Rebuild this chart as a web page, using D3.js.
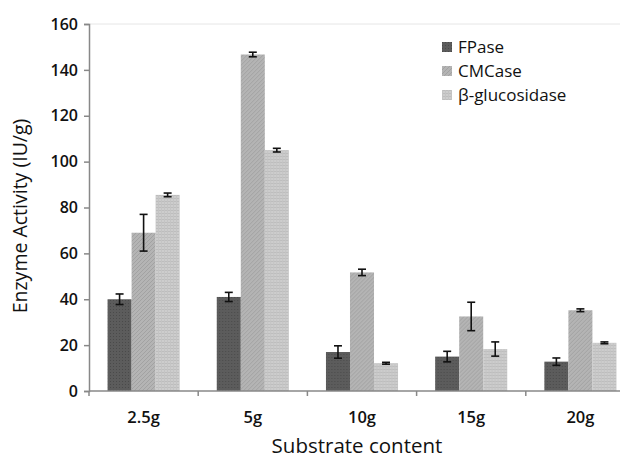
<!DOCTYPE html>
<html>
<head>
<meta charset="utf-8">
<script src="https://cdn.jsdelivr.net/npm/d3@7"></script>
<style>
  body { margin: 0; background: #fff; }
  text { font-family: "Open Sans", sans-serif; fill: #111; }
</style>
</head>
<body>
<div id="chart"></div>
<script>
const categories = ["2.5g", "5g", "10g", "15g", "20g"];
const seriesNames = ["FPase", "CMCase", "β-glucosidase"];
const fpase = [40, 41, 17, 15, 12.8];
const cmcase = [69, 146.7, 51.7, 32.5, 35.2];
const bglu = [85.5, 105, 12.1, 18.3, 21];
const fpaseErr = [2.3, 2, 2.7, 2.3, 1.6];
const cmcaseErr = [8, 1, 1.4, 6.2, 0.6];
const bgluErr = [0.8, 0.8, 0.4, 3.1, 0.4];
const yTicks = [0, 20, 40, 60, 80, 100, 120, 140, 160];

const width = 620, height = 459;
const margin = {top: 24, right: -15, bottom: 68, left: 89};

const svg = d3.select("#chart").append("svg")
    .attr("width", width)
    .attr("height", height);

// fill patterns for each series
const defs = svg.append("defs");
const p1 = defs.append("pattern").attr("id", "pat0")
    .attr("width", 3).attr("height", 3).attr("patternUnits", "userSpaceOnUse");
p1.append("rect").attr("width", 3).attr("height", 3).attr("fill", "#5c5c5c");
p1.append("rect").attr("width", 1).attr("height", 1).attr("fill", "#4a4a4a");
const p2 = defs.append("pattern").attr("id", "pat1")
    .attr("width", 4).attr("height", 4).attr("patternUnits", "userSpaceOnUse");
p2.append("rect").attr("width", 4).attr("height", 4).attr("fill", "#b4b4b4");
p2.append("path").attr("d", "M-1,5 L5,-1").attr("stroke", "#a2a2a2").attr("stroke-width", 1);
const p3 = defs.append("pattern").attr("id", "pat2")
    .attr("width", 3).attr("height", 3).attr("patternUnits", "userSpaceOnUse");
p3.append("rect").attr("width", 3).attr("height", 3).attr("fill", "#cdcdcd");
p3.append("rect").attr("width", 3).attr("height", 1).attr("fill", "#bdbdbd");
p3.append("rect").attr("width", 1).attr("height", 3).attr("fill", "#c4c4c4");

const x = d3.scaleBand()
    .domain(categories)
    .range([margin.left, width - margin.right])
    .paddingInner(0).paddingOuter(0);

const x1 = d3.scaleBand()
    .domain(seriesNames)
    .range([x.bandwidth() * 0.17, x.bandwidth() * 0.83]);

const y = d3.scaleLinear()
    .domain([0, 160])
    .range([height - margin.bottom, margin.top]);

// top gridline
svg.append("line")
    .attr("x1", margin.left).attr("x2", width)
    .attr("y1", y(160)).attr("y2", y(160))
    .attr("stroke", "#e6e6e6");

const yAxis = svg.append("g")
    .attr("transform", "translate(" + margin.left + ",0)")
    .call(d3.axisLeft(y).tickValues(yTicks).tickSize(5).tickPadding(6));
yAxis.select(".domain").attr("stroke", "#888").attr("stroke-width", 1.5);
yAxis.selectAll(".tick line").attr("stroke", "#888").attr("stroke-width", 1.5);
yAxis.selectAll("text").attr("font-size", 16).attr("font-weight", 600).style("fill", "#111");

const series = [fpase, cmcase, bglu];
const errs = [fpaseErr, cmcaseErr, bgluErr];

const groups = svg.append("g").selectAll("g")
    .data(categories)
    .join("g")
    .attr("transform", d => "translate(" + x(d) + ",0)");

groups.selectAll("rect")
    .data((d, i) => seriesNames.map((s, j) => ({s: s, j: j, v: series[j][i], e: errs[j][i]})))
    .join("rect")
    .attr("x", d => x1(d.s))
    .attr("width", x1.bandwidth())
    .attr("y", d => y(d.v))
    .attr("height", d => y(0) - y(d.v))
    .attr("fill", d => "url(#pat" + d.j + ")");

// error bars
const eb = groups.selectAll("g.err")
    .data((d, i) => seriesNames.map((s, j) => ({s: s, j: j, v: series[j][i], e: errs[j][i]})))
    .join("g")
    .attr("class", "err")
    .attr("stroke", "#111")
    .attr("stroke-width", 1.6);
eb.append("line")
    .attr("x1", d => x1(d.s) + x1.bandwidth() / 2)
    .attr("x2", d => x1(d.s) + x1.bandwidth() / 2)
    .attr("y1", d => y(d.v + d.e))
    .attr("y2", d => y(d.v - d.e));
eb.append("line")
    .attr("x1", d => x1(d.s) + x1.bandwidth() / 2 - 4)
    .attr("x2", d => x1(d.s) + x1.bandwidth() / 2 + 4)
    .attr("y1", d => y(d.v + d.e))
    .attr("y2", d => y(d.v + d.e));
eb.append("line")
    .attr("x1", d => x1(d.s) + x1.bandwidth() / 2 - 4)
    .attr("x2", d => x1(d.s) + x1.bandwidth() / 2 + 4)
    .attr("y1", d => y(d.v - d.e))
    .attr("y2", d => y(d.v - d.e));

// x axis with ticks at category boundaries
const xAxis = svg.append("g")
    .attr("transform", "translate(0," + y(0) + ")");
xAxis.append("line")
    .attr("x1", margin.left).attr("x2", width)
    .attr("stroke", "#888").attr("stroke-width", 1.5);
xAxis.selectAll("line.tk")
    .data(categories)
    .join("line")
    .attr("class", "tk")
    .attr("x1", d => x(d)).attr("x2", d => x(d))
    .attr("y1", 0).attr("y2", 5)
    .attr("stroke", "#888").attr("stroke-width", 1.5);
xAxis.selectAll("text")
    .data(categories)
    .join("text")
    .attr("x", d => x(d) + x.bandwidth() / 2)
    .attr("y", 32)
    .attr("text-anchor", "middle")
    .attr("font-size", 16.5)
    .attr("font-weight", 600)
    .text(d => d);

// axis titles
svg.append("text")
    .attr("x", 357).attr("y", 453)
    .attr("text-anchor", "middle")
    .attr("font-size", 20.5)
    .text("Substrate content");

svg.append("text")
    .attr("transform", "translate(27," + 216 + ") rotate(-90)")
    .attr("text-anchor", "middle")
    .attr("font-size", 19.5)
    .attr("font-weight", 500)
    .text("Enzyme Activity (IU/g)");

// legend
const legend = svg.append("g")
    .attr("transform", "translate(442,42)");
const li = legend.selectAll("g")
    .data(seriesNames)
    .join("g")
    .attr("transform", (d, i) => "translate(0," + i * 24 + ")");
li.append("rect")
    .attr("width", 10).attr("height", 10)
    .attr("fill", (d, i) => "url(#pat" + i + ")");
li.append("text")
    .attr("x", 16).attr("y", 11)
    .attr("font-size", 17)
    .text(d => d);
</script>
</body>
</html>
